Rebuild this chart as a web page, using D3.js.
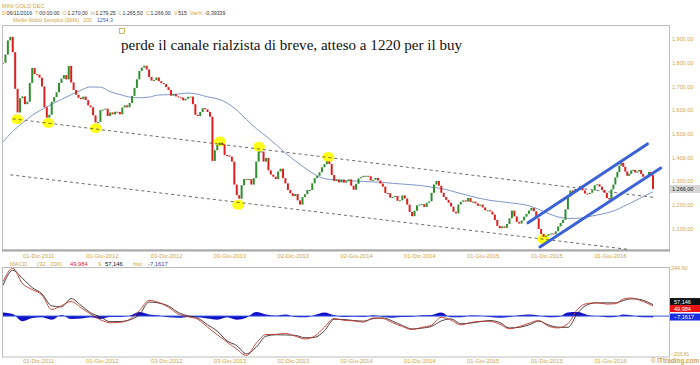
<!DOCTYPE html>
<html><head><meta charset="utf-8">
<script src="https://cdn.jsdelivr.net/npm/d3@7"></script>
<style>
body{margin:0;background:#fff}
svg{display:block}
text{font-family:"Liberation Sans",Arial,sans-serif}
</style>
</head><body>
<svg id="c" width="700" height="365"></svg>
<script>
// ---------- DATA ----------
const startDate = new Date(2011, 7, 22);   // first weekly sample
const splitDate = new Date(2016, 5, 1);    // 01-Giu-2016 (axis compression point)
// weekly closes
const closes = [
1800,1835,1895,1910,1845,1690,1590,1650,1658,1625,
1635,1715,1778,1752,1750,1737,1700,1612,1568,1580,
1635,1655,1675,1715,1733,1748,1730,1787,1717,1685,
1665,1652,1646,1657,1642,1620,1612,1578,1548,1550,
1600,1602,1606,1575,1590,1582,1593,1592,1582,1611,
1620,1612,1630,1660,1694,1730,1766,1780,1788,1772,
1740,1725,1727,1738,1722,1714,1710,1697,1685,1661,
1668,1658,1654,1653,1641,1648,1656,1657,1625,1580,
1575,1592,1608,1603,1592,1572,1385,1430,1452,1462,
1455,1410,1408,1403,1382,1285,1240,1225,1282,1308,
1304,1308,1285,1312,1382,1425,1425,1382,1397,1345,
1327,1318,1308,1340,1352,1312,1290,1262,1248,1236,
1245,1218,1200,1232,1244,1262,1262,1290,1312,1322,
1337,1358,1371,1383,1372,1325,1300,1306,1294,1306,
1293,1300,1307,1280,1263,1288,1311,1316,1322,1322,
1320,1302,1305,1313,1302,1289,1276,1249,1248,1230,
1232,1237,1216,1218,1239,1226,1200,1169,1151,1174,
1197,1200,1202,1190,1208,1214,1250,1285,1300,1280,
1250,1232,1220,1208,1192,1170,1163,1200,1212,1218,
1213,1228,1211,1213,1205,1195,1200,1188,1176,1176,
1171,1158,1135,1110,1100,1108,1102,1118,1142,1175,
1150,1127,1120,1133,1149,1161,1175,1186,1172,1142,
1097,1076,1064,1068,1075,1078,1075,1087,1108,1122,
1136,1180,1235,1260,1252,1266,1265,1278,1260,1247,
1245,1250,1260,1282,1286,1276,1262,1250,1228,1222,
1265,1285,1315,1338,1365,1377,1360,1340,1322,1330,
1345,1347,1336,1340,1346,1330,1318,1312,1322,1338,
1325,1266];
// SMA(200), MACD, signal and histogram sampled every 4 weeks (last = last bar)
const sma200 = [
1465,1510,1545,1578,1603,1625,1645,1665,1684,1698,
1697,1678,1666,1655,1652,1655,1664,1665,1668,1672,
1667,1656,1648,1630,1600,1560,1522,1490,1455,1418,
1385,1355,1328,1310,1305,1302,1300,1298,1296,1294,
1290,1287,1284,1280,1274,1268,1258,1247,1236,1226,
1218,1213,1208,1203,1195,1180,1162,1148,1142,1142,
1148,1156,1165,1176,1192,1208,1225,1242,1254.3];
const macdValues = [
171,238,162,132,105,33,52,73,42,10,
-18,-33,-31,-17,27,78,68,44,10,-3,
-16,-55,-93,-129,-165,-196,-135,-92,-91,-86,
-100,-114,-100,-55,-12,-21,-24,-30,-9,-12,
-33,-52,-67,-56,-45,-6,-20,-44,-32,-26,
-26,-40,-63,-52,-36,-22,-50,-59,-38,35,
63,66,60,62,85,90,80,65,49.984];
const signalValues = [
153,228,188,142,111,51,46,87,54,16,
-4,-28,-27,-19,7,70,65,50,18,1,
-10,-43,-75,-123,-147,-188,-155,-100,-93,-94,
-96,-108,-106,-73,-16,-17,-22,-25,-13,-9,
-25,-47,-64,-60,-51,-24,-14,-38,-35,-28,
-22,-32,-59,-56,-44,-25,-44,-55,-56,15,
57,66,66,66,77,86,84,71,57.146];
const histValues = [
18,10,-26,-10,-6,-18,6,-14,-12,-6,
-14,-5,-4,2,20,8,3,-6,-8,-4,
-6,-12,-18,-6,-18,-8,20,8,2,8,
-4,-6,6,18,4,-4,-2,-5,4,-3,
-8,-5,-3,4,6,18,-6,-6,3,2,
-4,-8,-4,4,8,3,-6,-4,18,20,
6,0,-6,-4,8,4,-4,-6,-7.1617];
const tickDates = ["2011-12-01","2012-06-01","2012-12-03","2013-06-03","2013-12-02","2014-06-02","2014-12-01","2015-06-01","2015-12-01","2016-06-01"];
const tickLabels = ["01-Dic-2011","01-Giu-2012","03-Dic-2012","03-Giu-2013","02-Dic-2013","02-Giu-2014","01-Dic-2014","01-Giu-2015","01-Dic-2015","01-Giu-2016"];
const priceTicks = [1100,1200,1300,1400,1500,1600,1700,1800,1900];
const macdRange = [-203.81, 244.60];
// trend lines: [weekIndex, price]
const dashedLines = [[[4,1563],[271,1231]], [[3,1326],[258,1011]]];
const channelLines = [[[215.6,1123],[268.2,1457]], [[220.5,1021],[274.9,1355]]];
const circles = [[5.8,1561],[18.6,1545],[38.1,1523],[89.1,1467],[96.6,1199],[105.1,1445],[133.6,1401],[221.9,1054]];
const lastPrice = 1266;
const headerInfo = [["D","06/11/2016"],["T","00:00:00"],["O","1.270,00"],["H","1.279,25"],["L","1.265,50"],["C","1.266,00"],["V","515"],["Var%","-0,39339"]];

// ---------- CHART ----------
const gold = "#d3a546", dark = "#333", red = "#dd1f1f", green = "#2f8f2f";
const svg = d3.select("#c");
const weekDate = i => new Date(startDate.getTime() + i * 7 * 864e5);
const lastIdx = closes.length - 1;
const x = d3.scaleTime().domain([startDate, splitDate, weekDate(lastIdx)]).range([3, 610, 653]);
const y = d3.scaleLinear().domain([1008, 1960]).range([250, 25]);
const ym = d3.scaleLinear().domain(macdRange).range([357, 267]);
const sIdx = k => Math.min(4 * k, lastIdx);

// header
const hdr = svg.append("g").style("font-size", "5.2px");
hdr.append("text").attr("x", 2).attr("y", 7.5).attr("fill", gold).style("font-size", "5.6px").text("MINI GOLD DEC");
const l2 = hdr.append("text").attr("x", 2).attr("y", 15);
headerInfo.forEach(([k, v], i) => {
  l2.append("tspan").attr("dx", i ? 3.2 : 0).attr("fill", gold).text(k);
  l2.append("tspan").attr("dx", k === "Var%" ? 2.5 : 0.8).attr("fill", dark).text(v);
});
const l3 = hdr.append("text").attr("x", 13).attr("y", 22);
l3.append("tspan").attr("fill", gold).text("Medie Mobili Semplici (SMA)");
l3.append("tspan").attr("dx", 4).attr("fill", gold).text("200");
l3.append("tspan").attr("dx", 5).attr("fill", "#3a62c4").text("1254,3");

// panels
svg.append("rect").attr("x", 2.5).attr("y", 25.5).attr("width", 667).attr("height", 224.5)
  .attr("fill", "#fff").attr("stroke", "#bdbdbd");
svg.append("line").attr("x1", 2).attr("x2", 670).attr("y1", 250.5).attr("y2", 250.5).attr("stroke", "#a8a8a8").attr("stroke-width", 2);
svg.append("rect").attr("x", 2.5).attr("y", 267.5).attr("width", 667).attr("height", 89.5)
  .attr("fill", "#fff").attr("stroke", "#bdbdbd");

svg.append("clipPath").attr("id", "cm").append("rect").attr("x", 3).attr("y", 26).attr("width", 666).attr("height", 224);
svg.append("clipPath").attr("id", "cd").append("rect").attr("x", 3).attr("y", 268).attr("width", 666).attr("height", 89);

const main = svg.append("g").attr("clip-path", "url(#cm)");

// yellow circles
main.selectAll("ellipse").data(circles).join("ellipse")
  .attr("cx", d => x(weekDate(d[0]))).attr("cy", d => y(d[1]))
  .attr("rx", 6).attr("ry", 5).attr("fill", "#ffff1a");

// dashed trendlines
main.selectAll("line.dash").data(dashedLines).join("line").attr("class", "dash")
  .attr("x1", d => x(weekDate(d[0][0]))).attr("y1", d => y(d[0][1]))
  .attr("x2", d => x(weekDate(d[1][0]))).attr("y2", d => y(d[1][1]))
  .attr("stroke", "#444").attr("stroke-width", 0.8).attr("stroke-dasharray", "3,3");

// SMA
main.append("path").datum(sma200)
  .attr("d", d3.line().x((v, k) => x(weekDate(sIdx(k)))).y(v => y(v)).curve(d3.curveMonotoneX))
  .attr("fill", "none").attr("stroke", "#7d97c9").attr("stroke-width", 1);

// candles
const candles = closes.map((c, i) => ({ d: weekDate(i), o: i ? closes[i - 1] : c, c }));
main.selectAll("rect.cdl").data(candles).join("rect").attr("class", "cdl")
  .attr("x", d => x(d.d) - 1).attr("width", 2)
  .attr("y", d => y(Math.max(d.o, d.c)))
  .attr("height", d => Math.max(1, Math.abs(y(d.o) - y(d.c))))
  .attr("fill", d => d.c >= d.o ? green : red);

// blue channel
main.selectAll("line.ch").data(channelLines).join("line").attr("class", "ch")
  .attr("x1", d => x(weekDate(d[0][0]))).attr("y1", d => y(d[0][1]))
  .attr("x2", d => x(weekDate(d[1][0]))).attr("y2", d => y(d[1][1]))
  .attr("stroke", "#3b63d6").attr("stroke-width", 3).attr("stroke-linecap", "round");

// annotation
svg.append("rect").attr("x", 119.5).attr("y", 28.5).attr("width", 5).attr("height", 5)
  .attr("fill", "none").attr("stroke", gold).attr("stroke-width", 0.8);
svg.append("text").attr("x", 121).attr("y", 49.5)
  .style("font-family", "'Liberation Serif','Times New Roman',serif").style("font-size", "15.1px")
  .attr("fill", "#111").text("perde il canale rialzista di breve, atteso a 1220 per il buy");

// price axis
const it = d3.formatLocale({decimal: ",", thousands: ".", grouping: [3], currency: ["", ""]});
const fmt2 = it.format(",.2f");
const yAxis = svg.append("g").attr("transform", "translate(672,0)")
  .call(d3.axisRight(y).tickValues(priceTicks).tickSize(0).tickPadding(0).tickFormat(fmt2));
yAxis.select(".domain").remove();
yAxis.selectAll("text").attr("fill", gold).style("font-size", "5.5px");

// last price box
svg.append("rect").attr("x", 670).attr("y", y(lastPrice) - 4).attr("width", 30).attr("height", 8).attr("fill", "#d6d6d6");
svg.append("text").attr("x", 672).attr("y", y(lastPrice) + 2).attr("fill", "#222").style("font-size", "5.5px").text(fmt2(lastPrice));

// x axes
const parse = d3.timeParse("%Y-%m-%d");
const td = tickDates.map(parse);
function xAxis(yy) {
  const g = svg.append("g").attr("transform", `translate(0,${yy})`)
    .call(d3.axisBottom(x).tickValues(td).tickSize(0).tickPadding(0).tickFormat((d, i) => tickLabels[i]));
  g.select(".domain").remove();
  g.selectAll("text").attr("fill", gold).style("font-size", "5.8px");
}
xAxis(253.5);
xAxis(358.5);

// MACD legend
const lg = svg.append("g").style("font-size", "5.8px");
[["MACD",10,gold],["(32 , 200)",37,gold],["49,984",70,red],["9",98,gold],["57,146",105,"#111"],["hist",133,gold],["-7,1617",148,"#2b45b8"]]
  .forEach(([t,px,c]) => lg.append("text").attr("x", px).attr("y", 266).attr("fill", c).text(t));

// MACD panel
const mp = svg.append("g").attr("clip-path", "url(#cd)");
mp.append("path").datum(histValues)
  .attr("d", d3.area().x((v, k) => x(weekDate(sIdx(k)))).y0(ym(0)).y1(v => ym(v)).curve(d3.curveMonotoneX))
  .attr("fill", "#1010c8");
mp.append("line").attr("x1", 3).attr("x2", 669).attr("y1", ym(0)).attr("y2", ym(0)).attr("stroke", "#3355dd").attr("stroke-width", 1);
mp.append("path").datum(signalValues)
  .attr("d", d3.line().x((v, k) => x(weekDate(sIdx(k)))).y(v => ym(v)).curve(d3.curveMonotoneX))
  .attr("fill", "none").attr("stroke", "#3a2a2a").attr("stroke-width", 0.9);
mp.append("path").datum(macdValues)
  .attr("d", d3.line().x((v, k) => x(weekDate(sIdx(k)))).y(v => ym(v)).curve(d3.curveMonotoneX))
  .attr("fill", "none").attr("stroke", "#c0392b").attr("stroke-width", 0.9);

// MACD right scale & value boxes
svg.append("text").attr("x", 671).attr("y", 270).attr("fill", gold).style("font-size", "5.5px").text(it.format(",.2f")(macdRange[1]));
svg.append("text").attr("x", 671).attr("y", 355.5).attr("fill", gold).style("font-size", "5px").text(it.format(",.2f")(macdRange[0]));
const mLast = macdValues[macdValues.length - 1], sLast = signalValues[signalValues.length - 1], hLast = histValues[histValues.length - 1];
const boxes = [[ym(mLast) - 8, "#111", "#fff", it.format(",.3f")(sLast)], [ym(mLast) - 1, "#e11", "#fff", it.format(",.3f")(mLast)], [ym(hLast) - 4, "#1b2fe0", "#fff", it.format(",.4f")(hLast)]];
boxes.forEach(([by, bg, fg, t]) => {
  svg.append("rect").attr("x", 670).attr("y", by).attr("width", 30).attr("height", 7).attr("fill", bg);
  svg.append("text").attr("x", 674).attr("y", by + 5.5).attr("fill", fg).style("font-size", "5.5px").text(t);
});

svg.append("text").attr("x", 699).attr("y", 363).attr("text-anchor", "end").attr("fill", gold)
  .style("font-size", "6.3px").style("font-weight", "bold").text("© ITtrading.com");
</script>
</body></html>
